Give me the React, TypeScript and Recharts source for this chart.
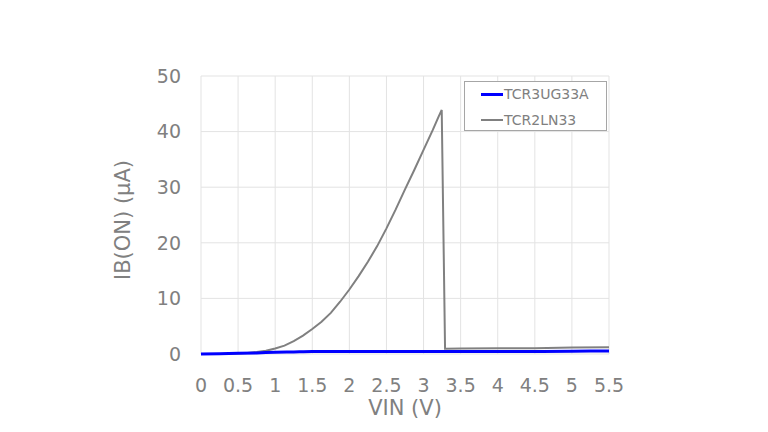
import React from "react";
import { LineChart, Line, XAxis, YAxis, CartesianGrid, Legend } from "recharts";

const xTicks = [0, 0.5, 1, 1.5, 2, 2.5, 3, 3.5, 4, 4.5, 5, 5.5];
const yTicks = [0, 10, 20, 30, 40, 50];

const tcr2Vin = [0, 0.25, 0.5, 0.625, 0.75, 0.875, 1.0, 1.125, 1.25, 1.375, 1.5, 1.625, 1.75, 1.875, 2.0, 2.125, 2.25, 2.375, 2.5, 2.625, 2.75, 2.875, 3.0, 3.125, 3.2, 3.245, 3.29, 3.5, 4.0, 4.5, 5.0, 5.5];
const tcr2Ib = [0, 0.02, 0.1, 0.2, 0.35, 0.6, 1.0, 1.5, 2.3, 3.3, 4.5, 5.8, 7.4, 9.4, 11.6, 14.0, 16.6, 19.4, 22.6, 26.0, 29.6, 33.1, 36.7, 40.3, 42.6, 43.9, 0.95, 1.0, 1.02, 1.05, 1.15, 1.2];

const tcr3Vin = [0, 0.25, 0.5, 0.75, 1.0, 1.25, 1.5, 2.0, 2.5, 3.0, 3.5, 4.0, 4.5, 5.0, 5.5];
const tcr3Ib = [0, 0.05, 0.12, 0.2, 0.3, 0.38, 0.45, 0.45, 0.45, 0.45, 0.45, 0.45, 0.45, 0.5, 0.55];

const tcr3Data = tcr3Vin.map((v, i) => ({ vin: v, ib: tcr3Ib[i] }));
const tcr2Data = tcr2Vin.map((v, i) => ({ vin: v, ib: tcr2Ib[i] }));

const FONT = "'DejaVu Sans', Verdana, sans-serif";
const GRAY = "#808080";

const LegendBox = () => (
  <div
    style={{
      position: "absolute",
      left: 464,
      top: 81,
      width: 143,
      height: 50,
      border: "1px solid #a6a6a6",
      background: "#fff",
      fontFamily: FONT,
      fontSize: 14,
      color: GRAY,
      boxSizing: "border-box",
    }}
  >
    <div style={{ position: "absolute", left: 16, top: 10.5, width: 22, height: 3, background: "#0000ff" }} />
    <div style={{ position: "absolute", left: 39, top: 3, lineHeight: "18px" }}>TCR3UG33A</div>
    <div style={{ position: "absolute", left: 16, top: 37, width: 22, height: 2, background: GRAY }} />
    <div style={{ position: "absolute", left: 39, top: 29, lineHeight: "18px" }}>TCR2LN33</div>
  </div>
);

const XTitle = () => (
  <text x={405} y={408} textAnchor="middle" dominantBaseline="central" fill={GRAY} fontSize={21} fontFamily={FONT}>
    VIN (V)
  </text>
);

const YTitle = () => (
  <text
    x={123}
    y={220}
    transform="rotate(-90 123 220)"
    textAnchor="middle"
    dominantBaseline="central"
    fill={GRAY}
    fontSize={21}
    fontFamily={FONT}
  >
    IB(ON) (μA)
  </text>
);

export default function App() {
  return (
    <div style={{ position: "absolute", left: 0, top: 0, width: 768, height: 432, background: "#fff" }}>
      <LineChart width={768} height={432} margin={{ top: 76, right: 159, left: 0, bottom: 0 }}>
        <CartesianGrid stroke="#e3e3e3" strokeWidth={1} />
        <XAxis
          dataKey="vin"
          type="number"
          domain={[0, 5.5]}
          ticks={xTicks}
          allowDuplicatedCategory={false}
          axisLine={false}
          tickLine={false}
          tickSize={0}
          tickMargin={25}
          height={78}
          tick={{ fill: GRAY, fontSize: 19, fontFamily: FONT }}
          label={{ content: () => <XTitle /> }}
        />
        <YAxis
          dataKey="ib"
          type="number"
          domain={[0, 50]}
          ticks={yTicks}
          axisLine={false}
          tickLine={false}
          tickSize={0}
          tickMargin={20}
          width={201}
          tick={{ fill: GRAY, fontSize: 19, fontFamily: FONT }}
          label={{ content: () => <YTitle /> }}
        />
        <Line data={tcr2Data} dataKey="ib" name="TCR2LN33" stroke={GRAY} strokeWidth={2} dot={false} isAnimationActive={false} type="linear" />
        <Line data={tcr3Data} dataKey="ib" name="TCR3UG33A" stroke="#0000ff" strokeWidth={3} dot={false} isAnimationActive={false} type="monotone" />
        <Legend content={() => null} />
      </LineChart>
      <LegendBox />
    </div>
  );
}
